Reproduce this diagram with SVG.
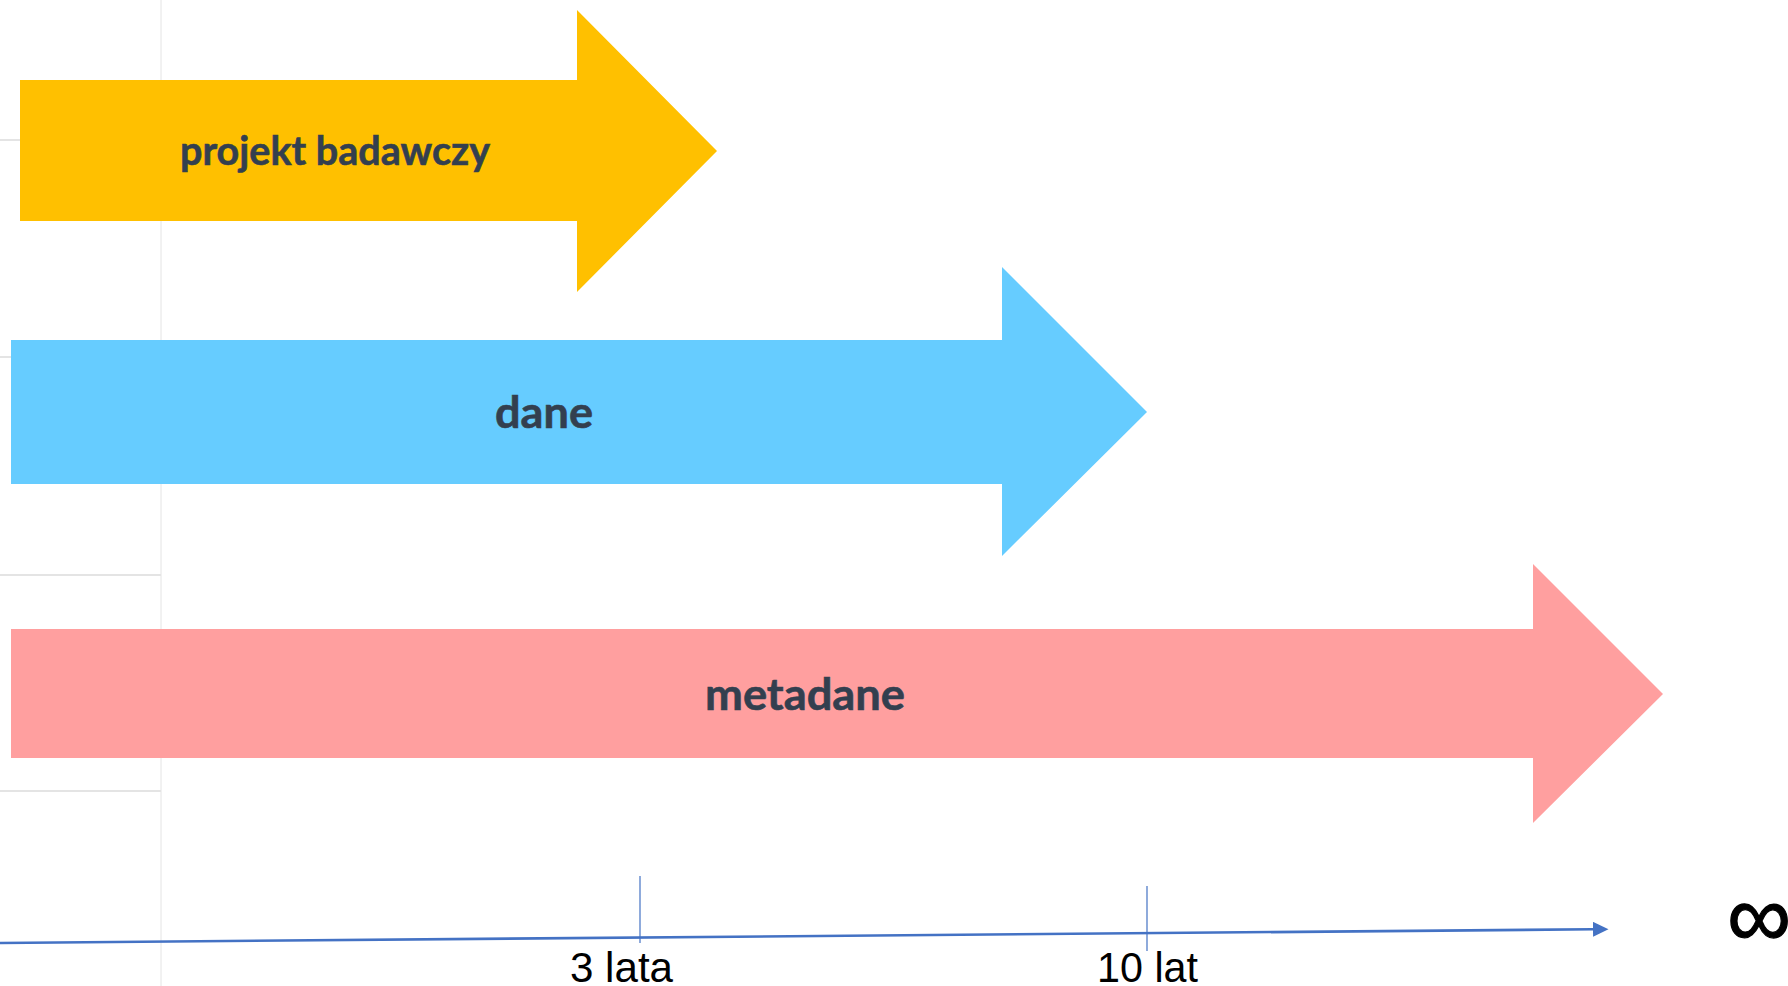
<svg xmlns="http://www.w3.org/2000/svg" width="1788" height="986" viewBox="0 0 1788 986">
  <style>
    .grid { stroke: #E4E4E4; fill: none; }
    .lbl { font-family: Lato, "Open Sans", "Noto Sans", sans-serif; font-weight: 700; fill: #333F4F; text-anchor: middle; }
    .axis-lbl { font-family: "Liberation Sans", Arial, sans-serif; font-size: 43px; fill: #000000; }
    .tick { stroke: #4472C4; stroke-width: 1.2; }
  </style>
  <defs>
    <marker id="axisHead" markerWidth="16" markerHeight="16" refX="0" refY="7.5" orient="auto" markerUnits="userSpaceOnUse">
      <path d="M0,0 L15.5,7.5 L0,15 Z" fill="#4472C4"/>
    </marker>
  </defs>
  <rect width="1788" height="986" fill="#FFFFFF"/>
  <g id="grid">
    <line class="grid" x1="161" y1="0" x2="161" y2="986" stroke-width="1"/>
    <line class="grid" x1="0" y1="140" x2="161" y2="140" stroke-width="2"/>
    <line class="grid" x1="0" y1="357" x2="161" y2="357" stroke-width="2"/>
    <line class="grid" x1="0" y1="575" x2="161" y2="575" stroke-width="2"/>
    <line class="grid" x1="0" y1="791" x2="161" y2="791" stroke-width="2"/>
  </g>
  <g id="projekt">
    <polygon points="20,80 577,80 577,10 717,151 577,292 577,221 20,221" fill="#FFC000"/>
    <text class="lbl" x="335" y="165" font-size="40" textLength="310" lengthAdjust="spacingAndGlyphs" stroke="#333F4F" stroke-width="0.6">projekt badawczy</text>
  </g>
  <g id="dane">
    <polygon points="11,340 1002,340 1002,267 1147,412 1002,556 1002,484 11,484" fill="#66CCFF"/>
    <text class="lbl" x="544" y="428" font-size="44" textLength="98" lengthAdjust="spacingAndGlyphs" stroke="#333F4F" stroke-width="0.6">dane</text>
  </g>
  <g id="metadane">
    <polygon points="11,629 1533,629 1533,564 1663,694 1533,823 1533,758 11,758" fill="#FF9F9F"/>
    <text class="lbl" x="805" y="710" font-size="44" textLength="200" lengthAdjust="spacingAndGlyphs" stroke="#333F4F" stroke-width="0.6">metadane</text>
  </g>
  <g id="connectors">
    <line x1="0" y1="943" x2="1593" y2="929.3" stroke="#4472C4" stroke-width="2.6" marker-end="url(#axisHead)"/>
    <line class="tick" x1="640" y1="876" x2="640" y2="943"/>
    <line class="tick" x1="1147" y1="886" x2="1147" y2="951"/>
  </g>
  <g id="labels">
    <text class="axis-lbl" x="570" y="982" textLength="103" lengthAdjust="spacingAndGlyphs">3 lata</text>
    <text class="axis-lbl" x="1097" y="982" textLength="101" lengthAdjust="spacingAndGlyphs">10 lat</text>
    <text x="1727" y="947" font-family="Liberation Sans, Arial, sans-serif" font-size="90" fill="#000000" stroke="#000000" stroke-width="1.2">∞</text>
  </g>
</svg>
